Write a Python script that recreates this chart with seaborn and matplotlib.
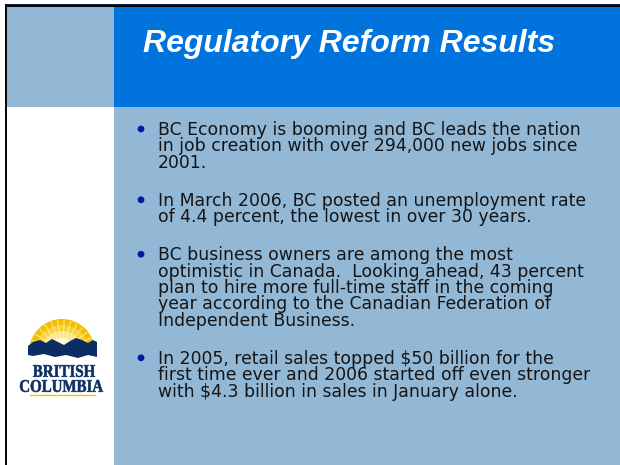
import numpy as np
import seaborn as sns
import matplotlib
matplotlib.use("Agg")
import matplotlib.pyplot as plt
from matplotlib.patches import Rectangle, Circle, Wedge, Polygon, PathPatch
from matplotlib.textpath import TextPath
from matplotlib.font_manager import FontProperties
from matplotlib.transforms import Affine2D

# slide content
TITLE = "Regulatory Reform Results"
BULLETS = [
    ["BC Economy is booming and BC leads the nation",
     "in job creation with over 294,000 new jobs since",
     "2001."],
    ["In March 2006, BC posted an unemployment rate",
     "of 4.4 percent, the lowest in over 30 years."],
    ["BC business owners are among the most",
     "optimistic in Canada.  Looking ahead, 43 percent",
     "plan to hire more full-time staff in the coming",
     "year according to the Canadian Federation of",
     "Independent Business."],
    ["In 2005, retail sales topped $50 billion for the",
     "first time ever and 2006 started off even stronger",
     "with $4.3 billion in sales in January alone."],
]
LOGO_WORDS = ["BRITISH", "COLUMBIA"]

# colours
LIGHT_BLUE = "#93B8D6"
TITLE_BLUE = "#0073DC"
NAVY = "#0C2D63"
DOT_BLUE = "#0019A8"
SUN = ["#F4BE00", "#F9D23A", "#FDE68A", "#FFF6D6", "#FFFFFF"]

sns.set_style("white")
plt.rcParams["font.family"] = ["DejaVu Sans"]

fig = plt.figure(figsize=(6.2, 4.65), dpi=100)
ax = fig.add_axes([0, 0, 1, 1])
ax.set_xlim(0, 620)
ax.set_ylim(465, 0)
ax.axis("off")

# panels
ax.add_patch(Rectangle((7, 7), 107, 100, color=LIGHT_BLUE, lw=0))
ax.add_patch(Rectangle((114, 7), 506, 100, color=TITLE_BLUE, lw=0))
ax.add_patch(Rectangle((114, 107), 506, 358, color=LIGHT_BLUE, lw=0))
# frame lines
ax.add_patch(Rectangle((5, 4), 615, 1.5, color="#0b1f4d", lw=0))
ax.add_patch(Rectangle((5, 5.5), 615, 1.7, color="#050505", lw=0))
ax.add_patch(Rectangle((4.6, 4), 2.6, 461, color="#080808", lw=0))

# title
ax.text(143, 52, TITLE, family="Liberation Sans", weight="bold", style="italic",
        fontsize=23, color="white", va="baseline", ha="left")

# bullets
y = 135
for lines in BULLETS:
    ax.add_patch(Circle((141, y - 6), 3.4, color=DOT_BLUE, lw=0))
    for i, line in enumerate(lines):
        ax.text(158, y + i * 16.4, line, fontsize=12.4, color="#151515",
                va="baseline", ha="left")
    y = y + (len(lines) - 1) * 16.4 + 38

# logo: sun
cx, cy = 62, 352
for r, c in zip([33, 27, 21, 14, 8], SUN):
    ax.add_patch(Wedge((cx, cy), r, 180, 360, color=c, lw=0))
for a in np.arange(190, 360, 12):
    ax.add_patch(Wedge((cx, cy), 32, a - 1.2, a + 1.2, color="white", alpha=0.55, lw=0))
# logo: mountains
mount = [(28, 346), (33, 342), (40, 340), (46, 343), (52, 339), (58, 342), (64, 345),
         (70, 341), (76, 338), (82, 340), (88, 343), (93, 340), (97, 342), (97, 357),
         (88, 355), (78, 358), (66, 355), (55, 357), (44, 354), (33, 356), (28, 355)]
ax.add_patch(Polygon(mount, closed=True, color=NAVY, lw=0))


def word(s, x0, x1, ytop, ybot):
    fp = FontProperties(family="Liberation Serif", weight="bold")
    p = TextPath((0, 0), s, size=10, prop=fp)
    ext = p.get_extents()
    sx = (x1 - x0) / ext.width
    sy = (ybot - ytop) / ext.height
    tr = Affine2D().translate(-ext.x0, -ext.y0).scale(sx, -sy).translate(x0, ybot)
    ax.add_patch(PathPatch(tr.transform_path(p), color=NAVY, lw=0.4))


word(LOGO_WORDS[0], 33, 95, 365, 377)
word(LOGO_WORDS[1], 20, 103, 380, 392)
ax.plot([30, 95], [394.5, 394.5], color="#F2C200", lw=1)

fig.savefig("out.png", dpi=100)
